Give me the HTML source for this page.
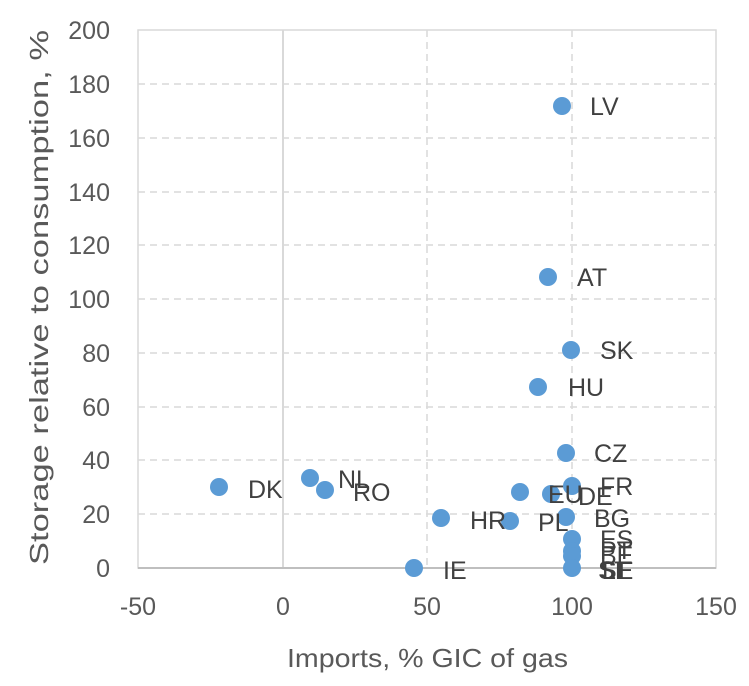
<!DOCTYPE html>
<html><head><style>body{margin:0;background:#fff}svg{display:block}</style></head><body>
<svg width="749" height="686" xmlns="http://www.w3.org/2000/svg" font-family="Liberation Sans, sans-serif">
<rect width="749" height="686" fill="#fff"/>
<g stroke="#d9d9d9" stroke-width="1.5" stroke-dasharray="7,5">
<line x1="138" y1="84" x2="716" y2="84"/><line x1="138" y1="138" x2="716" y2="138"/>
<line x1="138" y1="192" x2="716" y2="192"/><line x1="138" y1="245" x2="716" y2="245"/>
<line x1="138" y1="299" x2="716" y2="299"/><line x1="138" y1="353" x2="716" y2="353"/>
<line x1="138" y1="407" x2="716" y2="407"/><line x1="138" y1="460" x2="716" y2="460"/>
<line x1="138" y1="514" x2="716" y2="514"/>
<line x1="427" y1="30" x2="427" y2="568"/><line x1="572" y1="30" x2="572" y2="568"/>
</g>
<rect x="138" y="30" width="578" height="538" fill="none" stroke="#d9d9d9" stroke-width="1.5"/>
<line x1="283" y1="30" x2="283" y2="568" stroke="#d9d9d9" stroke-width="2"/>
<line x1="138" y1="568" x2="716" y2="568" stroke="#bfbfbf" stroke-width="2"/>
<g font-size="25" fill="#595959" text-anchor="end">
<text x="110" y="39">200</text><text x="110" y="93">180</text><text x="110" y="147">160</text>
<text x="110" y="201">140</text><text x="110" y="254">120</text><text x="110" y="308">100</text>
<text x="110" y="362">80</text><text x="110" y="416">60</text><text x="110" y="469">40</text>
<text x="110" y="523">20</text><text x="110" y="577">0</text>
</g>
<g font-size="25" fill="#595959" text-anchor="middle">
<text x="138" y="615">-50</text><text x="283" y="615">0</text><text x="427" y="615">50</text>
<text x="572" y="615">100</text><text x="716" y="615">150</text>
</g>
<g font-size="26" fill="#595959">
<text x="287" y="667" textLength="281" lengthAdjust="spacingAndGlyphs">Imports, % GIC of gas</text>
<text transform="translate(48,565) rotate(-90)" textLength="535" lengthAdjust="spacingAndGlyphs">Storage relative to consumption, %</text>
</g>
<g fill="#5b9bd5">
<circle cx="562" cy="106" r="9"/><circle cx="548" cy="277" r="9"/><circle cx="571" cy="350" r="9"/>
<circle cx="538" cy="387" r="9"/><circle cx="566" cy="453" r="9"/><circle cx="572" cy="486" r="9"/>
<circle cx="520" cy="492" r="9"/><circle cx="551" cy="494" r="9"/><circle cx="219" cy="487" r="9"/>
<circle cx="310" cy="478" r="9"/><circle cx="325" cy="490" r="9"/><circle cx="441" cy="518" r="9"/>
<circle cx="510" cy="521" r="9"/><circle cx="566" cy="517" r="9"/><circle cx="572" cy="539" r="9"/>
<circle cx="572" cy="551" r="9"/><circle cx="572" cy="556" r="9"/><circle cx="572" cy="568" r="9"/>
<circle cx="414" cy="568" r="9"/>
</g>
<g font-size="25" fill="#404040">
<text x="590" y="115">LV</text><text x="577" y="286">AT</text><text x="600" y="359">SK</text>
<text x="568" y="396">HU</text><text x="594" y="462">CZ</text><text x="600" y="495">FR</text>
<text x="548" y="503">EU</text><text x="578" y="505">DE</text><text x="248" y="498">DK</text>
<text x="338" y="488">NL</text><text x="353" y="501">RO</text><text x="470" y="529">HR</text>
<text x="538" y="531">PL</text><text x="594" y="527">BG</text><text x="600" y="548">ES</text>
<text x="600" y="559">PT</text><text x="600" y="564">BE</text>
<text x="598" y="579">SI</text><text x="600" y="579">SE</text><text x="602" y="579">LT</text>
<text x="443" y="579">IE</text>
</g>
</svg>
</body></html>
